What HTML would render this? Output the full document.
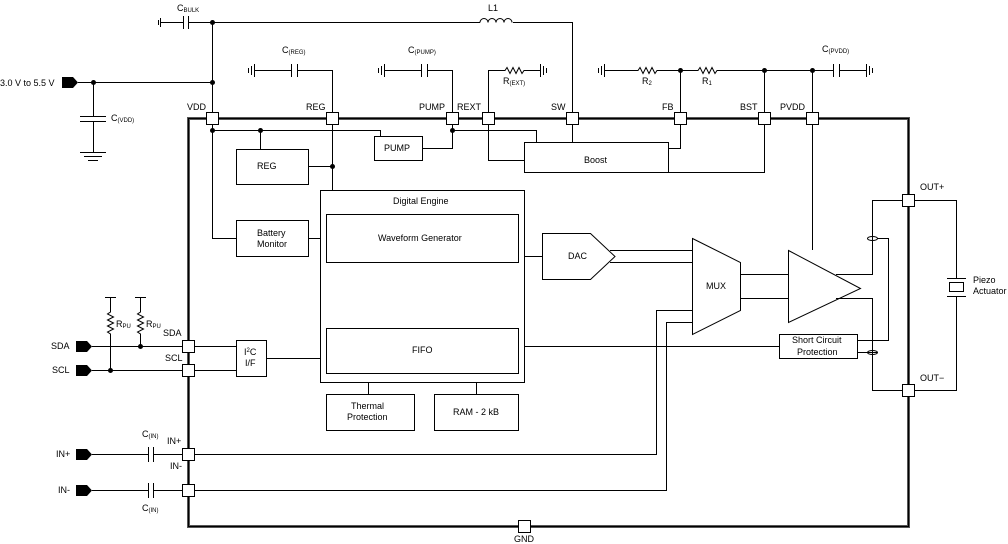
<!DOCTYPE html>
<html><head><meta charset="utf-8"><style>
html,body{margin:0;padding:0;background:#fff;}
svg{display:block;font-family:"Liberation Sans",Arial,sans-serif;}
text{font-size:9px;fill:#000;}
.s{font-size:6px;}
</style></head><body>
<svg width="1008" height="544" viewBox="0 0 1008 544" xmlns="http://www.w3.org/2000/svg">
<g fill="none" stroke="#000" stroke-width="1">
<!-- main box -->
<rect x="188.5" y="118.5" width="720" height="408" stroke="#555" stroke-width="3"/>
<rect x="188.5" y="118.5" width="720" height="408" stroke="#000" stroke-width="1"/>
<!-- top rail -->
<path d="M160 22.5H183M189 22.5H480M513 22.5H572.5V118"/>
<path d="M160.5 18v9M158.5 20v5"/>
<path d="M183.5 16v13M188.5 16v13"/>
<path d="M480 22.5a4 4 0 0 1 8 0a4 4 0 0 1 8 0a4 4 0 0 1 8 0a4 4 0 0 1 8 0"/>
<path d="M212.5 22v96"/>
<!-- VIN -->
<path d="M78 82.5H212.5M93.5 82.5V116M93.5 122V152M80 116.5H106M80 121.5H106M80 152.5H106M84 156.5H102M88 160.5H98"/>
<!-- CREG -->
<path d="M255 70.5H291M297 70.5H332.5V118M254.5 64v13M251.5 66v9M248.5 68v5M291.5 64v13M297.5 64v13"/>
<!-- CPUMP -->
<path d="M385 70.5H421M427 70.5H452.5V118M384.5 64v13M381.5 66v9M378.5 68v5M421.5 64v13M427.5 64v13"/>
<!-- REXT -->
<path d="M488.5 118V70.5H505l2-3 3 6 3-6 3 6 3-6 3 6 2-3H540M540.5 64v13M543.5 66v9M546.5 68v5"/>
<!-- R2 R1 -->
<path d="M605 70.5H638l2-3 3 6 3-6 3 6 3-6 3 6 2-3H698l2-3 3 6 3-6 3 6 3-6 3 6 2-3H833M839 70.5H866M604.5 64v13M601.5 66v9M598.5 68v5M833.5 64v13M839.5 64v13M866.5 64v13M869.5 66v9M872.5 68v5"/>
<path d="M680.5 70v48M764.5 70v48M812.5 70v48"/>
<!-- internal VDD -->
<path d="M212.5 124V238.5H236M212.5 130.5H380.5V136M260.5 130V149"/>
<rect x="236.5" y="149.5" width="72" height="35"/>
<path d="M308 166.5H332.5M332.5 124V190"/>
<rect x="374.5" y="136.5" width="48" height="24"/>
<path d="M422 148.5H452.5V124M452.5 130.5H536.5V142M488.5 124V160.5H524"/>
<rect x="524.5" y="142.5" width="144" height="30"/>
<path d="M572.5 124V142M680.5 124V148.5H668M764.5 124V172.5H668M812.5 124V250"/>
<!-- battery -->
<rect x="236.5" y="220.5" width="72" height="36"/>
<path d="M308 238.5H320"/>
<!-- Digital engine -->
<rect x="320.5" y="190.5" width="204" height="192"/>
<rect x="326.5" y="214.5" width="192" height="48"/>
<rect x="326.5" y="328.5" width="192" height="45"/>
<path d="M368.5 382V394M476.5 382V394"/>
<rect x="326.5" y="394.5" width="88" height="36"/>
<rect x="434.5" y="394.5" width="84" height="36"/>
<!-- I2C -->
<rect x="236.5" y="340.5" width="30" height="36"/>
<path d="M194 346.5H236M194 370.5H236M266 358.5H320"/>
<!-- DAC -->
<path d="M524 256.5H542.5M542.5 233.5H590.5L615 256.5L590.5 279.5H542.5Z"/>
<path d="M610 250.5H692M610 262.5H692"/>
<!-- MUX -->
<path d="M692.5 238.5L740.5 262.5V310.5L692.5 334.5Z"/>
<path d="M740 274.5H788M740 298.5H788"/>
<!-- Amp -->
<path d="M788.5 250.5L860.5 288.5L788.5 322.5Z"/>
<path d="M836 274.5H872.5V200.5H956.5V278M836 298.5H872.5V390.5H956.5V296"/>
<path d="M947 278.5H966M947 296.5H966"/>
<rect x="949.5" y="282.5" width="14" height="9"/>
<ellipse cx="872.5" cy="238.5" rx="5" ry="2"/>
<ellipse cx="872.5" cy="352.5" rx="5" ry="2"/>
<rect x="779.5" y="334.5" width="78" height="24"/>
<path d="M857 340.5H888.5V238.5H877M857 352.5H877M524 346.5H779"/>
<!-- IN -->
<path d="M92 454.5H148M154 454.5H182M194 454.5H656.5V310.5H692M92 490.5H148M154 490.5H182M194 490.5H666.5V322.5H692"/>
<path d="M148.5 447v15M153.5 447v15M148.5 483v15M153.5 483v15"/>
<!-- SDA SCL -->
<path d="M92 346.5H182M92 370.5H182M110.5 297V312l-3 2 6 3-6 3 6 3-6 3 6 3-6 3 3 2V370M140.5 297V312l-3 2 6 3-6 3 6 3-6 3 6 3-6 3 3 2V346M105 297.5H116M135 297.5H146"/>
</g>
<!-- pins -->
<g fill="#fff" stroke="#000" stroke-width="1">
<rect x="206.5" y="112.5" width="12" height="12"/><rect x="326.5" y="112.5" width="12" height="12"/>
<rect x="446.5" y="112.5" width="12" height="12"/><rect x="482.5" y="112.5" width="12" height="12"/>
<rect x="566.5" y="112.5" width="12" height="12"/><rect x="674.5" y="112.5" width="12" height="12"/>
<rect x="758.5" y="112.5" width="12" height="12"/><rect x="806.5" y="112.5" width="12" height="12"/>
<rect x="902.5" y="194.5" width="12" height="12"/><rect x="902.5" y="384.5" width="12" height="12"/>
<rect x="182.5" y="340.5" width="12" height="12"/><rect x="182.5" y="364.5" width="12" height="12"/>
<rect x="182.5" y="448.5" width="12" height="12"/><rect x="182.5" y="484.5" width="12" height="12"/>
<rect x="518.5" y="520.5" width="12" height="12"/>
</g>
<!-- dots -->
<g fill="#000">
<circle cx="212.5" cy="22.5" r="2.5"/><circle cx="212.5" cy="82.5" r="2.5"/><circle cx="93.5" cy="82.5" r="2.5"/>
<circle cx="212.5" cy="130.5" r="2.5"/><circle cx="260.5" cy="130.5" r="2.5"/><circle cx="332.5" cy="166.5" r="2.5"/>
<circle cx="452.5" cy="130.5" r="2.5"/><circle cx="680.5" cy="70.5" r="2.5"/><circle cx="764.5" cy="70.5" r="2.5"/>
<circle cx="812.5" cy="70.5" r="2.5"/><circle cx="140.5" cy="346.5" r="2.5"/><circle cx="110.5" cy="370.5" r="2.5"/>
<path d="M62 77h11l5 5.5-5 5.5h-11z"/>
<path d="M76 341h11l5 5.5-5 5.5h-11z"/><path d="M76 365h11l5 5.5-5 5.5h-11z"/>
<path d="M76 449h11l5 5.5-5 5.5h-11z"/><path d="M76 485h11l5 5.5-5 5.5h-11z"/>
</g>
<!-- labels -->
<text x="0" y="86">3.0 V to 5.5 V</text>
<text x="177" y="11">C<tspan class="s" dy="1">BULK</tspan></text>
<text x="488" y="11">L1</text>
<text x="111" y="121">C<tspan class="s" dy="1">(VDD)</tspan></text>
<text x="282" y="53">C<tspan class="s" dy="1">(REG)</tspan></text>
<text x="408" y="53">C<tspan class="s" dy="1">(PUMP)</tspan></text>
<text x="503" y="84">R<tspan class="s" dy="1">(EXT)</tspan></text>
<text x="642" y="84">R<tspan class="s" dy="1">2</tspan></text>
<text x="702" y="84">R<tspan class="s" dy="1">1</tspan></text>
<text x="822" y="52">C<tspan class="s" dy="1">(PVDD)</tspan></text>
<text x="187" y="110">VDD</text><text x="306" y="110">REG</text><text x="419" y="110">PUMP</text>
<text x="457" y="110">REXT</text><text x="551" y="110">SW</text><text x="662" y="110">FB</text>
<text x="740" y="110">BST</text><text x="780" y="110">PVDD</text>
<text x="920" y="190">OUT+</text><text x="920" y="381">OUT−</text>
<text x="257" y="169">REG</text><text x="384" y="151">PUMP</text><text x="584" y="163">Boost</text>
<text x="257" y="236">Battery</text><text x="257" y="247">Monitor</text>
<text x="393" y="204">Digital Engine</text><text x="378" y="241">Waveform Generator</text>
<text x="412" y="353">FIFO</text>
<text x="351" y="409">Thermal</text><text x="347" y="420">Protection</text>
<text x="453" y="415">RAM - 2 kB</text>
<text x="244" y="355">I<tspan class="s" dy="-3">2</tspan><tspan dy="3">C</tspan></text><text x="245" y="366">I/F</text>
<text x="568" y="259">DAC</text><text x="706" y="289">MUX</text>
<text x="792" y="343">Short Circuit</text><text x="797" y="355">Protection</text>
<text x="973" y="283">Piezo</text><text x="973" y="294">Actuator</text>
<text x="51" y="349">SDA</text><text x="52" y="373">SCL</text>
<text x="163" y="336">SDA</text><text x="165" y="361">SCL</text>
<text x="116" y="327">R<tspan class="s" dy="1">PU</tspan></text><text x="146" y="327">R<tspan class="s" dy="1">PU</tspan></text>
<text x="56" y="457">IN+</text><text x="58" y="493">IN-</text>
<text x="142" y="437">C<tspan class="s" dy="1">(IN)</tspan></text><text x="142" y="511">C<tspan class="s" dy="1">(IN)</tspan></text>
<text x="167" y="444">IN+</text><text x="170" y="469">IN-</text>
<text x="514" y="542">GND</text>
</svg>
</body></html>
